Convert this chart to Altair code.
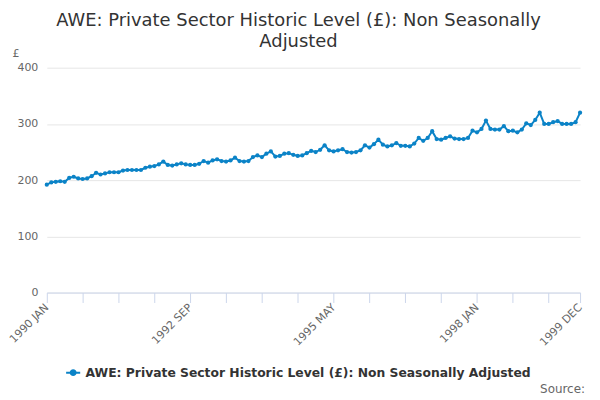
import altair as alt
import pandas as pd

SERIES = "AWE: Private Sector Historic Level (£): Non Seasonally Adjusted"
MONTHS = ["JAN", "FEB", "MAR", "APR", "MAY", "JUN", "JUL", "AUG", "SEP", "OCT", "NOV", "DEC"]
years = list(range(1990, 2000))
periods = [f"{y} {m}" for y in years for m in MONTHS]

values = [
    # 1990
    192, 196, 197, 198, 197, 204, 206, 203, 202, 203, 207, 213,
    # 1991
    210, 212, 214, 214, 214, 217, 218, 218, 218, 218, 222, 224,
    # 1992
    225, 228, 233, 227, 226, 228, 230, 228, 227, 227, 229, 234,
    # 1993
    231, 235, 237, 234, 233, 235, 240, 234, 233, 234, 241, 244,
    # 1994
    241, 247, 251, 242, 243, 247, 248, 245, 243, 244, 248, 252,
    # 1995
    250, 254, 262, 253, 251, 253, 255, 250, 249, 250, 253, 262,
    # 1996
    258, 264, 272, 263, 260, 262, 266, 261, 261, 260, 265, 275,
    # 1997
    270, 275, 287, 273, 272, 275, 278, 274, 273, 273, 275, 288,
    # 1998
    285, 291, 306, 291, 290, 290, 296, 287, 288, 285, 290, 301,
    # 1999
    298, 307, 320, 300, 300, 303, 305, 300, 300, 300, 303, 320,
]

label_periods = ["1990 JAN", "1992 SEP", "1995 MAY", "1998 JAN", "1999 DEC"]
tick_periods = [periods[i] for i in range(0, 120, 8)] + [periods[-1]]
y_ticks = [0, 100, 200, 300, 400]

df = pd.DataFrame({"period": periods, "value": values, "series": SERIES})
src = pd.DataFrame({"t": ["Source:"]})

COLOR = "#0b83c7"
FONT = "DejaVu Sans"

x_enc = alt.X(
    "period:O",
    sort=None,
    scale=alt.Scale(type="point", padding=0),
    axis=alt.Axis(
        title=None,
        values=tick_periods,
        labelExpr="indexof(" + str(label_periods) + ", datum.value) >= 0 ? datum.value : ''",
        labelAngle=-45,
        labelAlign="right",
        labelBaseline="middle",
        labelFontSize=11,
        labelColor="#666666",
        labelFont=FONT,
        labelPadding=3,
        tickColor="#ccd6eb",
        tickSize=10,
        domainColor="#ccd6eb",
        grid=False,
    ),
)
y_enc = alt.Y(
    "value:Q",
    scale=alt.Scale(domain=[0, 400], nice=False),
    axis=alt.Axis(
        values=y_ticks,
        title="£",
        titleAngle=0,
        titleAlign="left",
        titleBaseline="bottom",
        titleX=-35,
        titleY=-9,
        titleFontWeight="normal",
        titleFontSize=11,
        titleColor="#666666",
        titleFont=FONT,
        labelFontSize=11,
        labelColor="#666666",
        labelFont=FONT,
        labelPadding=9,
        ticks=False,
        domain=False,
        gridColor="#e6e6e6",
    ),
)
color_enc = alt.Color(
    "series:N",
    scale=alt.Scale(range=[COLOR]),
    legend=alt.Legend(
        title=None,
        orient="none",
        legendX=18,
        legendY=298,
        symbolType="M-1,0H1M0.35,0A0.35,0.35,0,1,1,-0.35,0A0.35,0.35,0,1,1,0.35,0Z",
        symbolSize=200,
        symbolStrokeWidth=2,
        symbolFillColor=COLOR,
        labelFontSize=12.4,
        labelFontWeight="bold",
        labelColor="#333333",
        labelFont=FONT,
        labelLimit=600,
    ),
)

line = alt.Chart(df).mark_line(strokeWidth=2).encode(x=x_enc, y=y_enc, color=color_enc)
points = alt.Chart(df).mark_circle(size=18, opacity=1).encode(x=x_enc, y=y_enc, color=color_enc)
source = alt.Chart(src).mark_text(
    align="right", baseline="alphabetic", fontSize=12, color="#666666", font=FONT
).encode(x=alt.value(541), y=alt.value(327), text="t:N")

chart = alt.layer(line, points, source).properties(
    width=536,
    height=226,
    autosize=alt.AutoSizeParams(type="none"),
    padding={"left": 39, "top": 59, "right": 12, "bottom": 110},
    title=alt.Title(
        text=["AWE: Private Sector Historic Level (£): Non Seasonally", "Adjusted"],
        anchor="middle",
        fontSize=18,
        fontWeight="normal",
        color="#333333",
        font=FONT,
        dx=-15,
        dy=11,
        lineHeight=21,
        offset=8,
    ),
).configure_view(stroke=None)

chart.save("out.html", embed_options={"renderer": "svg", "actions": False})
